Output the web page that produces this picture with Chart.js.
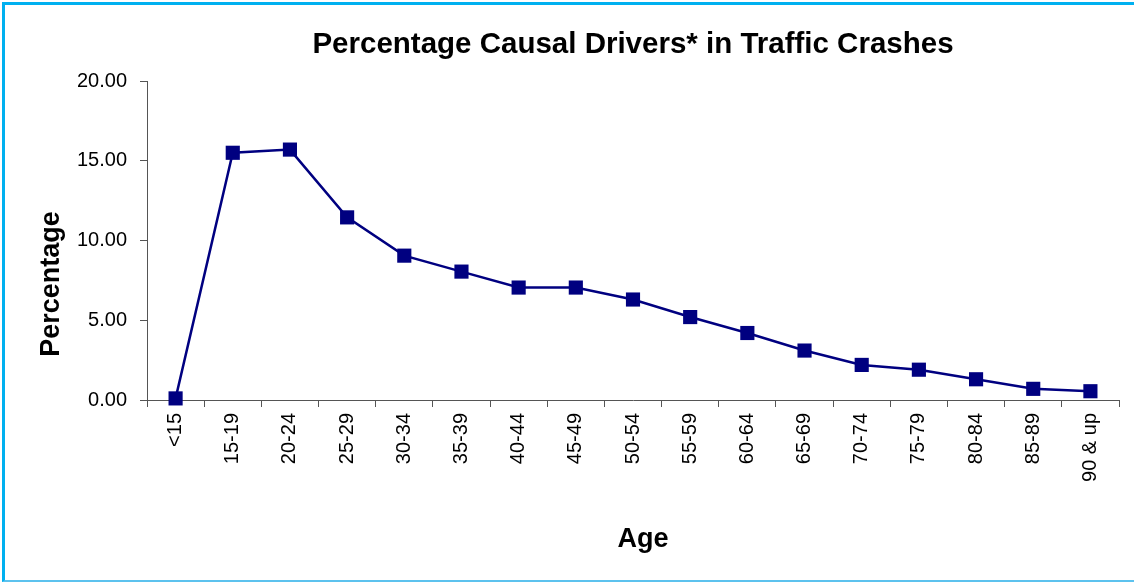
<!DOCTYPE html>
<html>
<head>
<meta charset="utf-8">
<script src="https://cdn.jsdelivr.net/npm/chart.js@4.4.1/dist/chart.umd.min.js"></script>
<style>
  html, body { margin: 0; padding: 0; background: #fff; overflow: hidden; }
  #wrap { position: relative; width: 1134px; height: 582px; }
  #frame {
    position: absolute; left: 2px; top: 2px; width: 1160px; height: 575px;
    border-top: 3px solid #00b0f0; border-left: 3px solid #00b0f0;
    border-bottom: 2px solid #5cc2ee; pointer-events: none;
  }
</style>
</head>
<body>
<div id="wrap">
  <canvas id="crashChart" width="1134" height="582"></canvas>
  <div id="frame"></div>
</div>
<script>
// Data
const ageGroups = ['<15', '15-19', '20-24', '25-29', '30-34', '35-39', '40-44', '45-49',
  '50-54', '55-59', '60-64', '65-69', '70-74', '75-79', '80-84', '85-89', '90 & up'];
const percentages = [0.1, 15.5, 15.7, 11.45, 9.05, 8.05, 7.05, 7.05,
  6.3, 5.2, 4.2, 3.1, 2.2, 1.9, 1.3, 0.7, 0.55];
const yMin = 0;
const yMax = 20;
const yStep = 5;

const navy = '#000080';
const axisGray = '#555555';
const fontFamily = "'Liberation Sans', Arial, sans-serif";

// Axis titles drawn by hand so they sit where the original puts them
const axisTitles = {
  id: 'axisTitles',
  afterDraw(chart) {
    const ctx = chart.ctx;
    const area = chart.chartArea;
    ctx.save();
    ctx.fillStyle = '#000';
    ctx.font = 'bold 27px ' + fontFamily;
    ctx.textAlign = 'center';
    ctx.textBaseline = 'middle';
    ctx.fillText('Age', (area.left + area.right) / 2 + 10, 540);
    ctx.translate(52, 284);
    ctx.rotate(-Math.PI / 2);
    ctx.fillText('Percentage', 0, 0);
    ctx.restore();
  }
};

const ctx = document.getElementById('crashChart').getContext('2d');
const crashChart = new Chart(ctx, {
  type: 'line',
  data: {
    labels: ageGroups,
    datasets: [
      {
        label: 'Percentage',
        data: percentages,
        borderColor: navy,
        backgroundColor: navy,
        borderWidth: 2.5,
        tension: 0,
        pointStyle: 'rect',
        pointRadius: 10,
        pointHoverRadius: 10,
        pointBorderWidth: 0,
        clip: false,
      },
    ],
  },
  options: {
    responsive: false,
    animation: false,
    layout: { padding: { left: 0, right: 15, top: 0, bottom: 0 } },
    plugins: {
      legend: { display: false },
      tooltip: { enabled: false },
      title: {
        display: true,
        text: 'Percentage Causal Drivers* in Traffic Crashes',
        fullSize: false,
        color: '#000',
        font: { family: fontFamily, size: 29.5, weight: 'bold', lineHeight: 1.2 },
        padding: { top: 27, bottom: 18.6 },
      },
    },
    scales: {
      x: {
        offset: true,
        afterFit(scale) { scale.height = 182; },
        grid: {
          display: true,
          offset: true,
          drawOnChartArea: false,
          drawTicks: true,
          tickLength: 7,
          color: axisGray,
        },
        border: { display: true, color: axisGray, width: 1 },
        ticks: {
          autoSkip: false,
          minRotation: 90,
          maxRotation: 90,
          padding: 6,
          color: '#000',
          font: { family: fontFamily, size: 20 },
        },
      },
      y: {
        min: yMin,
        max: yMax,
        afterFit(scale) { scale.width = 147; },
        grid: {
          display: true,
          drawOnChartArea: false,
          drawTicks: true,
          tickLength: 7,
          color: axisGray,
        },
        border: { display: true, color: axisGray, width: 1 },
        ticks: {
          stepSize: yStep,
          padding: 13,
          color: '#000',
          font: { family: fontFamily, size: 20 },
          callback: (value) => Number(value).toFixed(2),
        },
      },
    },
  },
  plugins: [axisTitles],
});
</script>
</body>
</html>
